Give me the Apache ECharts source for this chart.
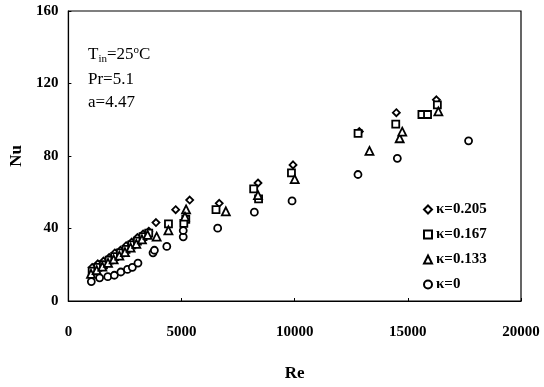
<!DOCTYPE html>
<html>
<head>
<meta charset="utf-8">
<script src="https://cdn.jsdelivr.net/npm/echarts@6/dist/echarts.min.js"></script>
<style>
html,body{margin:0;padding:0;background:#fff;}
#chart{width:544px;height:387px;}
</style>
</head>
<body>
<div id="chart"></div>
<script>
// Data (Re, Nu)
const seriesNames = ['\u03ba=0.205', '\u03ba=0.167', '\u03ba=0.133', '\u03ba=0'];
const k0205 = [[1050,18.5],[1300,20.5],[1550,22],[1800,24],[2050,26.5],[2300,28],[2550,30.5],[2800,32.5],[3050,35],[3300,37],[3550,38.5],
  [3870,43.3],[4740,50.4],[5360,55.7],[6665,53.9],[8378,65.1],[9926,75.1],[12857,93.5],[14491,103.9],[16261,111]];
const k0167 = [[1050,16.5],[1300,18.5],[1550,20],[1800,22.5],[2050,24.5],[2300,26.5],[2550,28.5],[2800,31],[3050,33],[3300,35.5],[3550,37.5],
  [4422,42.5],[5187,45.1],[5100,42.8],[6522,50.4],[8187,61.9],[8404,56.3],[9857,70.7],[12800,92.5],[14465,97.6],[15622,102.9],[15870,102.9],[16304,108.2]];
const k0133 = [[1000,15],[1250,17],[1500,19],[1750,21],[2000,23],[2250,25],[2500,27],[2750,29.5],[3000,31.5],[3250,34],[3500,36.5],
  [3900,35.5],[4420,39],[5200,50.5],[5150,46.5],[6957,49.5],[8378,58.4],[10000,67.2],[13304,82.8],[14639,89.8],[14752,93.4],[16348,104.6]];
const k0 = [[1013,10.7],[1378,12.8],[1739,13.4],[2030,14.2],[2317,16.0],[2609,17.4],[2826,18.6],[3074,20.9],
  [3739,26.6],[3800,28],[4348,30.1],[5074,35.4],[5074,38.9],[6596,40.2],[8217,49.0],[9883,55.2],[12796,69.8],[14535,78.7],[17683,88.4]];
const symbols = ['diamond', 'rect', 'triangle', 'circle'];
const xTicks = {min: 0, max: 20000, interval: 5000};
const yTicks = {min: 0, max: 160, interval: 40};

const font = '"Liberation Serif", "Times New Roman", serif';
const dataSets = [k0205, k0167, k0133, k0];
const chart = echarts.init(document.getElementById('chart'), null, {renderer: 'canvas'});
chart.setOption({
  backgroundColor: '#fff',
  animation: false,
  grid: {left: 60, right: 23, top: 11, bottom: 74, show: true, borderColor: '#000', borderWidth: 1.2, backgroundColor: 'transparent'},
  xAxis: {
    type: 'value', min: xTicks.min, max: xTicks.max, interval: xTicks.interval,
    name: 'Re', nameLocation: 'middle', nameGap: 64,
    nameTextStyle: {fontFamily: font, fontWeight: 'bold', fontSize: 17, color: '#000'},
    axisLine: {lineStyle: {color: '#000', width: 1.2}},
    axisTick: {inside: true, length: 3, lineStyle: {color: '#000'}},
    axisLabel: {margin: 24, fontFamily: font, fontWeight: 'bold', fontSize: 15, color: '#000', formatter: v => String(v)},
    splitLine: {show: false}
  },
  yAxis: {
    type: 'value', min: yTicks.min, max: yTicks.max, interval: yTicks.interval,
    name: 'Nu', nameLocation: 'middle', nameGap: 40,
    nameTextStyle: {fontFamily: font, fontWeight: 'bold', fontSize: 17, color: '#000'},
    axisLine: {lineStyle: {color: '#000', width: 1.2}},
    axisTick: {inside: true, length: 3, lineStyle: {color: '#000'}},
    axisLabel: {margin: 10, fontFamily: font, fontWeight: 'bold', fontSize: 15, color: '#000', formatter: v => String(v)},
    splitLine: {show: false}
  },
  legend: {
    orient: 'vertical', left: 418, top: 197, itemWidth: 8, itemHeight: 8, itemGap: 10,
    textStyle: {fontFamily: font, fontWeight: 'bold', fontSize: 15, color: '#000', lineHeight: 15, padding: [0, 0, 0, -1]},
    data: seriesNames.map((n, i) => ({name: n, icon: symbols[i]}))
  },
  graphic: [{
    type: 'text', left: 88, top: 45,
    style: {
      rich: {
        n: {fontFamily: font, fontSize: 17, fill: '#000', lineHeight: 20},
        sub: {fontFamily: font, fontSize: 11, fill: '#000', lineHeight: 20, verticalAlign: 'bottom', padding: [8, 0, 0, 0]},
        sup: {fontFamily: font, fontSize: 11, fill: '#000', lineHeight: 20, verticalAlign: 'top', padding: [0, 0, 8, 0]}
      },
      text: '{n|T}{sub|in}{n|=25}{sup|o}{n|C}'
    }
  }, {
    type: 'text', left: 88, top: 71,
    style: {text: 'Pr=5.1', fontFamily: font, fontSize: 17, fill: '#000'}
  }, {
    type: 'text', left: 88, top: 94,
    style: {text: 'a=4.47', fontFamily: font, fontSize: 17, fill: '#000'}
  }],
  series: dataSets.map((d, i) => ({
    name: seriesNames[i], type: 'scatter', data: d, symbol: symbols[i],
    symbolSize: symbols[i] === 'triangle' ? 8 : 7,
    itemStyle: {color: '#fff', borderColor: '#000', borderWidth: 1.8, opacity: 1}
  }))
});
</script>
</body>
</html>
